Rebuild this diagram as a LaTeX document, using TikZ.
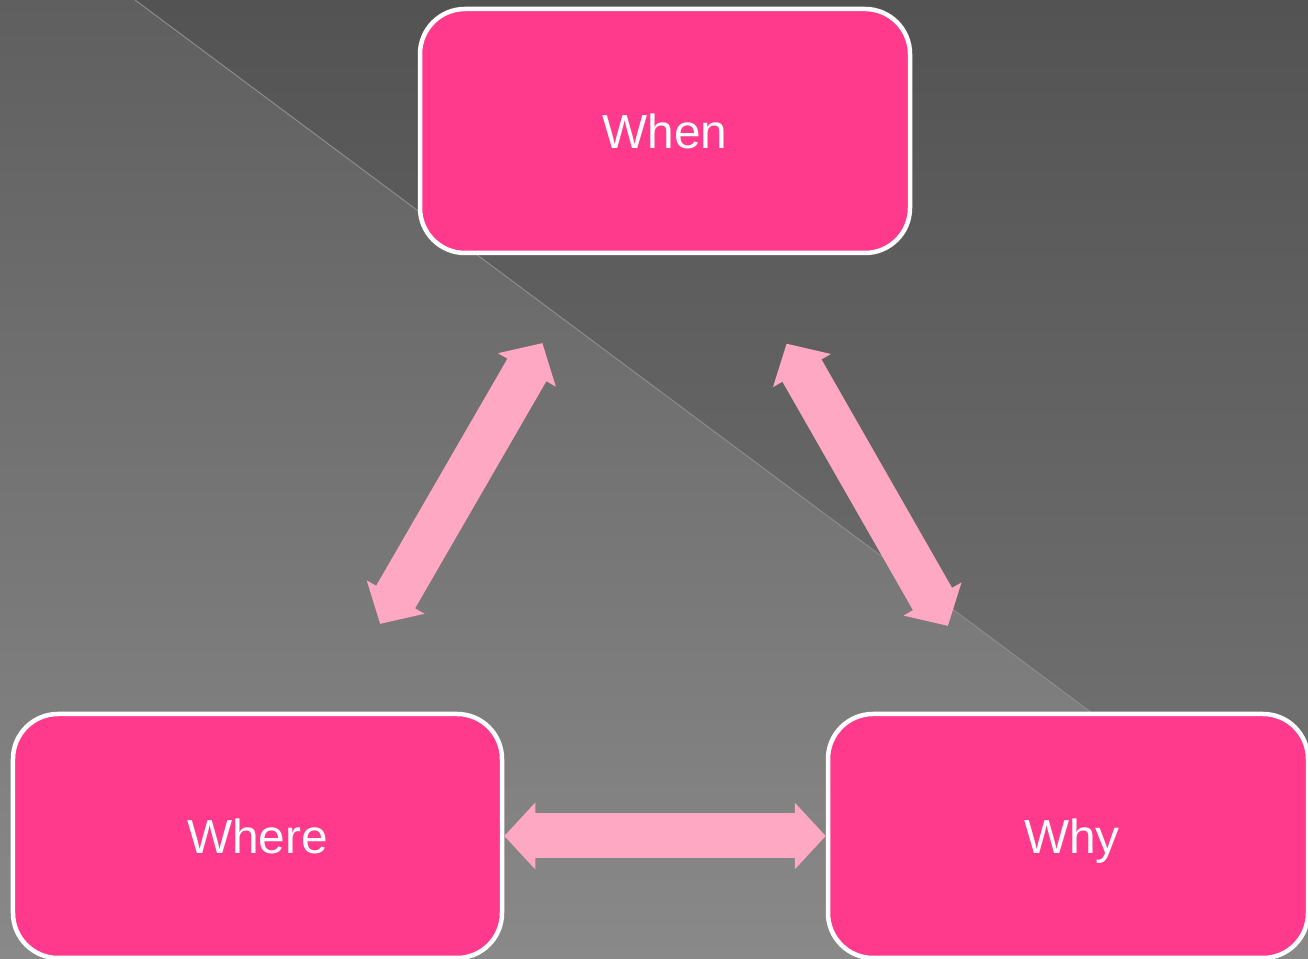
\documentclass[tikz,border=0pt]{standalone}
\usepackage{fontspec}
\newfontfamily\boxfont{Liberation Sans}
\usepackage{xcolor}
\usetikzlibrary{arrows.meta}
\definecolor{boxpink}{RGB}{255,57,139}
\definecolor{arrowpink}{RGB}{255,168,196}
\definecolor{bgtop}{RGB}{95,95,95}
\definecolor{bgbottom}{RGB}{137,137,137}
\definecolor{darktop}{RGB}{83,83,83}
\definecolor{darkbottom}{RGB}{116,116,116}
\definecolor{seamgray}{RGB}{140,140,140}
\tikzset{
  every picture/.style={line join=round},
  wbox/.style={draw=white, line width=0.045cm, fill=boxpink, rounded corners=0.45cm,
    minimum height=2.44cm, text=white, text height=10.2pt, text depth=0pt,
    font=\boxfont\fontsize{13.6}{16}\selectfont},
  link/.style={draw=arrowpink, line width=0.45cm,
    {Triangle[length=0.31cm 0 0, width=0.65cm 0 0]}-{Triangle[length=0.31cm 0 0, width=0.65cm 0 0]}},
}

\begin{document}
\begin{tikzpicture}
\useasboundingbox (0,0) rectangle (13.08,9.59);
% background
\shade[top color=bgtop, bottom color=bgbottom] (0,0) rectangle (13.08,9.59);
\shade[top color=darktop, bottom color=darkbottom] (1.35,9.59) -- (13.08,9.59) -- (13.08,0.85) -- cycle;
\draw[seamgray, line width=0.01cm] (1.35,9.59) -- (13.08,0.85);
% boxes
\node[wbox, minimum width=4.90cm] (when) at (6.65,8.28) {When};
\node[wbox, minimum width=4.89cm] (where) at (2.575,1.23) {Where};
\node[wbox, minimum width=4.80cm] (why) at (10.68,1.23) {\hspace{0.08cm}Why};
% arrows
\draw[link, shorten <=2.45cm, shorten >=2.45cm] (where.center) -- (when.center);
\draw[link, shorten <=2.42cm, shorten >=2.45cm] (why.center) -- (when.center);
\draw[link] (where.east) -- (why.west);
\end{tikzpicture}
\end{document}
